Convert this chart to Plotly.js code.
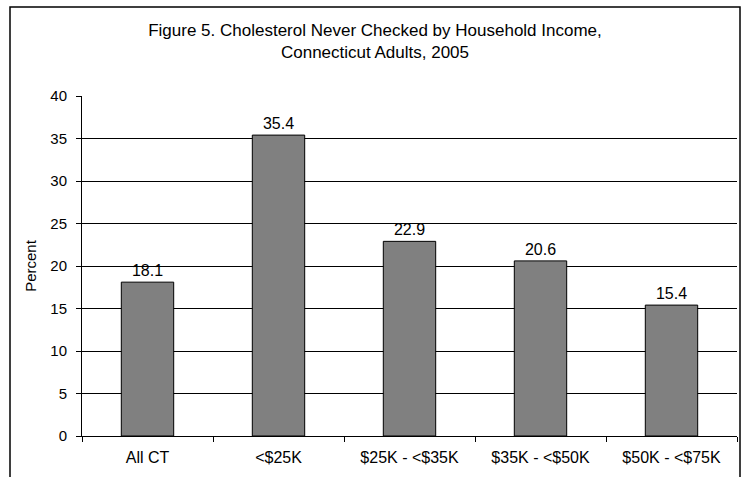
<!DOCTYPE html>
<html>
<head>
<meta charset="utf-8">
<script src="https://cdn.plot.ly/plotly-3.0.1.min.js"></script>
<style>
  body { margin: 0; background: #fff; }
  #chart { width: 744px; height: 477px; }
</style>
</head>
<body>
<div id="chart"></div>
<script>
// Household income groups and percent never checked
const incomeGroups = ['All CT', '<$25K', '$25K - <$35K', '$35K - <$50K', '$50K - <$75K'];
const percentNeverChecked = [18.1, 35.4, 22.9, 20.6, 15.4];
const yTicks = [0, 5, 10, 15, 20, 25, 30, 35, 40];

const font = 'Arial, "Liberation Sans", sans-serif';

const barTrace = {
    x: incomeGroups,
    y: percentNeverChecked,
    type: 'bar',
    marker: { color: '#808080', line: { color: '#000', width: 1 } },
    text: percentNeverChecked.map(v => v.toFixed(1)),
    textposition: 'outside',
    textfont: { family: font, size: 16, color: '#000' },
    cliponaxis: false,
    hoverinfo: 'none'
};

const layout = {
    width: 744,
    height: 477,
    margin: { l: 82, r: 7, t: 96, b: 41 },
    paper_bgcolor: '#fff',
    plot_bgcolor: '#fff',
    showlegend: false,
    bargap: 0.6,
    font: { family: font, size: 15, color: '#000' },
    title: {
        text: 'Figure 5. Cholesterol Never Checked by Household Income,<br>Connecticut Adults, 2005',
        font: { family: font, size: 17, color: '#000' },
        x: 375 / 744,
        xref: 'container',
        xanchor: 'center',
        y: 1 - 36 / 477,
        yanchor: 'top'
    },
    xaxis: {
        type: 'category',
        tickson: 'boundaries',
        ticks: 'outside',
        ticklen: 5,
        tickcolor: '#000',
        ticklabelstandoff: 7,
        showline: true,
        linecolor: '#000',
        linewidth: 1,
        showgrid: false,
        tickfont: { family: font, size: 16, color: '#000' }
    },
    yaxis: {
        range: [0, 40],
        tickvals: yTicks,
        ticks: 'outside',
        ticklen: 5,
        tickcolor: '#000',
        ticklabelstandoff: 6,
        showline: true,
        linecolor: '#000',
        linewidth: 1,
        showgrid: true,
        gridcolor: '#000',
        gridwidth: 1,
        zeroline: false,
        tickfont: { family: font, size: 15, color: '#000' },
        title: { text: 'Percent', font: { family: font, size: 15, color: '#000' }, standoff: 10 }
    },
    shapes: [{
        type: 'rect',
        xref: 'paper', yref: 'paper',
        x0: (10 - 82) / 655, x1: (740 - 82) / 655,
        y0: -0.2, y1: (436 - 7) / 340,
        line: { color: '#000', width: 1.5 },
        fillcolor: 'rgba(0,0,0,0)',
        layer: 'below'
    }]
};

Plotly.newPlot('chart', [barTrace], layout, { staticPlot: true, displayModeBar: false });
</script>
</body>
</html>
